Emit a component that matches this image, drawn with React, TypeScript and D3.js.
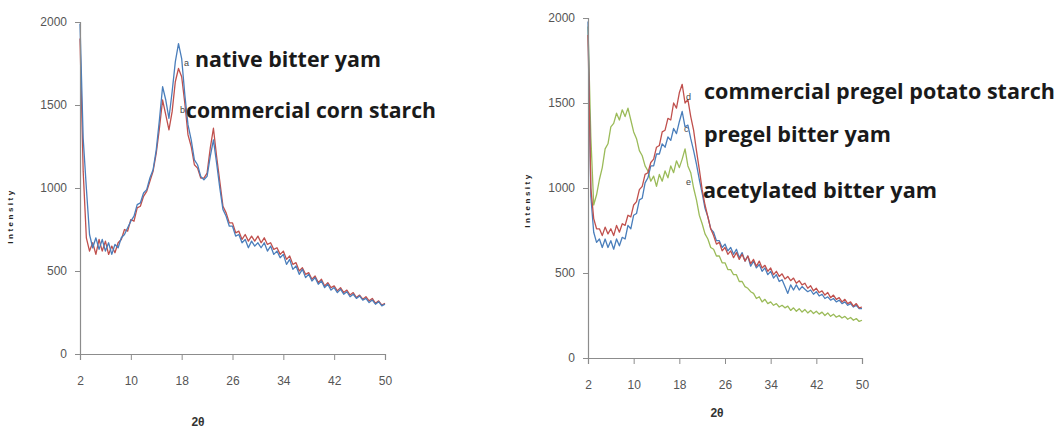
import React, { useEffect, useRef } from 'react';
import * as d3 from 'd3';

// 2-theta sampling grid, 2..50 every 0.5 degree
const twoTheta: number[] = d3.range(2, 50.25, 0.5);
const xTicks = [2, 10, 18, 26, 34, 42, 50];
const yTicks = [0, 500, 1000, 1500, 2000];

// left panel (rows of 5 degrees)
const nativeBitterYam = [
  1990, 1300, 1000, 720, 640, 700, 630, 690, 620, 670,
  600, 660, 640, 700, 720, 760, 800, 830, 900, 910,
  970, 990, 1060, 1110, 1230, 1410, 1610, 1530, 1420, 1580,
  1760, 1870, 1780, 1560, 1380, 1290, 1170, 1140, 1070, 1050,
  1070, 1190, 1290, 1150, 1000, 870, 830, 770, 770, 710,
  720, 670, 690, 640, 680, 650, 670, 640, 670, 620,
  650, 600, 620, 580, 600, 540, 570, 510, 530, 480,
  510, 460, 480, 440, 460, 420, 440, 400, 420, 385,
  400, 370, 390, 360, 375, 345, 360, 335, 350, 325,
  335, 310, 325, 300, 315, 290, 300,
];
const commercialCornStarch = [
  1900, 1100, 700, 620, 670, 600, 690, 620, 680, 600,
  650, 610, 670, 690, 750, 740, 810, 800, 880, 890,
  950, 980, 1040, 1100, 1210, 1360, 1530, 1440, 1350, 1460,
  1640, 1720, 1670, 1510, 1320, 1250, 1140, 1120, 1060, 1060,
  1090, 1240, 1360, 1190, 1040, 890, 850, 790, 790, 730,
  740, 690, 720, 680, 710, 680, 710, 670, 700, 660,
  670, 630, 640, 600, 620, 570, 590, 540, 550, 500,
  520, 480, 490, 450, 470, 430, 450, 410, 430, 400,
  410, 380, 400, 370, 385, 355, 370, 340, 355, 330,
  345, 320, 335, 305, 320, 295, 305,
];

// right panel
const commercialPregelPotato = [
  1900, 1000, 820, 760, 760, 720, 770, 730, 760, 720,
  780, 740, 790, 780, 840, 830, 900, 920, 990, 1010,
  1080, 1090, 1150, 1170, 1240, 1250, 1330, 1340, 1410, 1400,
  1500, 1470, 1560, 1610, 1500, 1520, 1420, 1340, 1220, 1110,
  990, 900, 830, 760, 720, 670, 680, 630, 650, 610,
  630, 590, 620, 580, 610, 570, 600, 555, 580, 540,
  570, 530, 545, 510, 530, 490, 510, 480, 495, 465,
  480, 455, 470, 440, 455, 430, 440, 410, 425, 395,
  410, 385, 395, 370, 385, 355, 370, 345, 355, 330,
  345, 320, 330, 305, 320, 295, 300,
];
const pregelBitterYam = [
  1980, 950, 740, 680, 700, 650, 700, 650, 690, 640,
  700, 660, 710, 700, 780, 760, 840, 850, 930, 940,
  1030, 1060, 1130, 1130, 1200, 1200, 1260, 1240, 1300, 1280,
  1350, 1320, 1390, 1450, 1360, 1370, 1290, 1220, 1140, 1050,
  970, 880, 830, 760, 740, 690, 690, 650, 670, 630,
  650, 610, 640, 590, 620, 570, 600, 540, 570, 530,
  550, 510, 530, 490, 510, 470, 490, 450, 460, 420,
  380, 430, 400, 430, 400, 420, 405, 390, 400, 375,
  390, 365, 375, 350, 360, 340, 350, 330, 340, 320,
  330, 310, 320, 300, 310, 290, 290,
];
const acetylatedBitterYam = [
  1950, 1300, 900, 960, 1050, 1120, 1230, 1260, 1360, 1380,
  1440, 1400, 1460, 1420, 1470, 1400, 1330, 1290, 1220, 1190,
  1130, 1100, 1040, 1070, 1010, 1080, 1040, 1100, 1060, 1130,
  1090, 1160, 1120, 1170, 1230, 1130, 1090, 1000, 930, 840,
  790, 730, 700, 650, 640, 600, 600, 560, 560, 520,
  520, 490, 490, 450, 450, 420, 410, 390, 380, 350,
  360, 330, 345, 320, 330, 310, 320, 300, 310, 295,
  305, 280, 295, 275, 290, 270, 285, 265, 280, 262,
  275, 258, 270, 250, 265, 245, 258, 240, 250, 235,
  245, 228, 238, 222, 232, 215, 222,
];

const leftNames = ['native bitter yam', 'commercial corn starch'];
const leftTags = ['a', 'b'];
const rightNames = ['commercial pregel potato starch', 'pregel bitter yam', 'acetylated bitter yam'];
const rightTags = ['d', 'c', 'e'];

const BLUE = '#4a7ebb';
const RED = '#c0504d';
const GREEN = '#9bbb59';

function App() {
  const ref = useRef<SVGSVGElement>(null);

  useEffect(() => {
    drawChart();
  });

  function drawPanel(svg: any, p: any) {
    const x = d3.scaleLinear().domain([2, 50]).range([p.x0, p.x1]);
    const y = d3.scaleLinear().domain([0, 2000]).range([p.yb, p.yt]);
    const g = svg.append('g');

    // series
    const line = d3.line<number>()
      .x((_, i) => x(twoTheta[i]))
      .y((d) => y(d));
    p.series.forEach((s: any) => {
      g.append('path')
        .attr('d', line(s.values))
        .attr('fill', 'none')
        .attr('stroke', s.color)
        .attr('stroke-width', 1.3)
        .attr('stroke-linejoin', 'round');
    });

    // axes
    const xAxis = g.append('g')
      .attr('transform', `translate(0, ${p.yb})`)
      .call(d3.axisBottom(x).tickValues(xTicks).tickSize(6).tickPadding(16));
    const yAxis = g.append('g')
      .attr('transform', `translate(${p.x0}, 0)`)
      .call(d3.axisLeft(y).tickValues(yTicks).tickFormat(d3.format('d')).tickSize(5).tickPadding(8));
    [xAxis, yAxis].forEach((a) => {
      a.select('.domain').attr('stroke', '#8c8c8c').attr('stroke-width', 1.2);
      a.selectAll('line').attr('stroke', '#8c8c8c');
      a.selectAll('text')
        .style('font-family', 'Liberation Sans Narrow, Liberation Sans, sans-serif')
        .style('font-size', '12px')
        .attr('fill', '#555');
    });

    // axis titles
    g.append('text')
      .attr('x', p.xTitle[0]).attr('y', p.xTitle[1])
      .attr('text-anchor', 'middle')
      .style('font-family', 'Liberation Sans, sans-serif')
      .style('font-size', '12px')
      .style('font-weight', 'bold')
      .attr('fill', '#333')
      .text('2θ');
    g.append('text')
      .attr('transform', `translate(${p.yTitle[0]}, ${p.yTitle[1]}) rotate(-90)`)
      .attr('text-anchor', 'middle')
      .style('font-family', 'Liberation Sans, sans-serif')
      .style('font-size', '8px')
      .style('font-weight', 'bold')
      .style('letter-spacing', '2.5px')
      .attr('fill', '#222')
      .text('Intensity');

    // annotations
    p.labels.forEach((l: any) => {
      g.append('text')
        .attr('x', l.tx).attr('y', l.ty)
        .style('font-family', 'Liberation Sans, sans-serif')
        .style('font-size', '9px')
        .attr('fill', '#444')
        .text(l.tag);
      g.append('text')
        .attr('x', l.x).attr('y', l.y)
        .attr('textLength', l.w)
        .attr('lengthAdjust', 'spacingAndGlyphs')
        .style('font-family', 'Open Sans, sans-serif')
        .style('font-size', '21px')
        .style('font-weight', 'bold')
        .attr('fill', '#1a1a1a')
        .text(l.name);
    });
  }

  function drawChart() {
    const svg = d3.select(ref.current);
    svg.selectAll('*').remove();

    drawPanel(svg, {
      x0: 80, x1: 385, yt: 22, yb: 354,
      xTitle: [198, 426], yTitle: [13, 216],
      series: [
        { values: commercialCornStarch, color: RED },
        { values: nativeBitterYam, color: BLUE },
      ],
      labels: [
        { tag: leftTags[0], tx: 184, ty: 66, name: leftNames[0], x: 195, y: 67, w: 186 },
        { tag: leftTags[1], tx: 180, ty: 113, name: leftNames[1], x: 186, y: 118, w: 250 },
      ],
    });

    drawPanel(svg, {
      x0: 588, x1: 862, yt: 18, yb: 358,
      xTitle: [717, 417], yTitle: [530, 200],
      series: [
        { values: acetylatedBitterYam, color: GREEN },
        { values: pregelBitterYam, color: BLUE },
        { values: commercialPregelPotato, color: RED },
      ],
      labels: [
        { tag: rightTags[0], tx: 686, ty: 100, name: rightNames[0], x: 704, y: 99, w: 351 },
        { tag: rightTags[1], tx: 684, ty: 132, name: rightNames[1], x: 704, y: 142, w: 187 },
        { tag: rightTags[2], tx: 686, ty: 185, name: rightNames[2], x: 703, y: 198, w: 234 },
      ],
    });
  }

  return (
    <svg ref={ref} width={1060} height={434}
      style={{ position: 'absolute', left: 0, top: 0, background: '#fff' }} />
  );
}

export default App;
